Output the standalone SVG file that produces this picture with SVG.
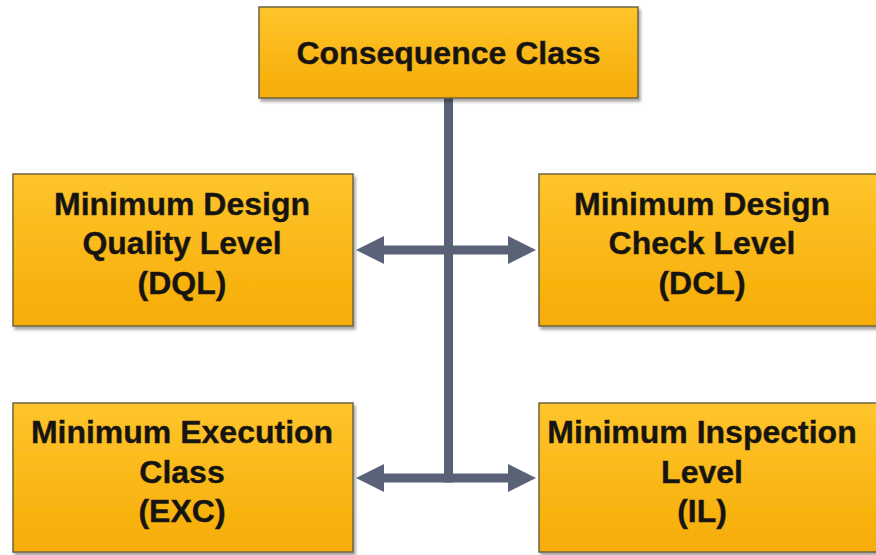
<svg xmlns="http://www.w3.org/2000/svg" width="876" height="555" viewBox="0 0 876 555">
  <defs>
    <linearGradient id="boxFill" x1="0" y1="0" x2="0" y2="1">
      <stop offset="0" stop-color="#FEC52C"/>
      <stop offset="1" stop-color="#F6AC06"/>
    </linearGradient>
    <filter id="boxShadow" x="-5%" y="-5%" width="112%" height="120%">
      <feDropShadow dx="2" dy="3" stdDeviation="1.8" flood-color="#000" flood-opacity="0.35"/>
    </filter>
    <marker id="arrow" viewBox="0 0 28 28" refX="1" refY="14" markerWidth="28" markerHeight="28" markerUnits="userSpaceOnUse" orient="auto-start-reverse">
      <path d="M0,0 L28,14 L0,28 Z" fill="#596276"/>
    </marker>
  </defs>
  <style>
    .box { fill: url(#boxFill); stroke: #6f6440; stroke-width: 1.5; filter: url(#boxShadow); }
    .label { font-family: "Liberation Sans", Arial, sans-serif; font-weight: bold; font-size: 32px; fill: #161412; stroke: #2a1f10; stroke-width: 0.4; text-anchor: middle; }
    .wire { fill: none; stroke: #596276; stroke-width: 9; }
  </style>

  <rect width="876" height="555" fill="#ffffff"/>

  <!-- connectors -->
  <g id="connectors">
    <line class="wire" x1="448.5" y1="97" x2="448.5" y2="482.5"/>
    <line class="wire" x1="383" y1="250" x2="509" y2="250" marker-start="url(#arrow)" marker-end="url(#arrow)"/>
    <line class="wire" x1="383" y1="478" x2="509" y2="478" marker-start="url(#arrow)" marker-end="url(#arrow)"/>
  </g>

  <g id="consequence-class">
    <rect class="box" x="259" y="7" width="379" height="91"/>
    <text class="label" x="448.5" y="64">Consequence Class</text>
  </g>

  <g id="design-quality-level">
    <rect class="box" x="13" y="174" width="340" height="152"/>
    <text class="label" x="182" y="215">Minimum Design</text>
    <text class="label" x="182" y="254">Quality Level</text>
    <text class="label" x="182" y="294">(DQL)</text>
  </g>

  <g id="design-check-level">
    <rect class="box" x="539" y="174" width="345" height="152"/>
    <text class="label" x="702" y="215">Minimum Design</text>
    <text class="label" x="702" y="254">Check Level</text>
    <text class="label" x="702" y="294">(DCL)</text>
  </g>

  <g id="execution-class">
    <rect class="box" x="13" y="403" width="340" height="149"/>
    <text class="label" x="182" y="443">Minimum Execution</text>
    <text class="label" x="182" y="483">Class</text>
    <text class="label" x="182" y="522">(EXC)</text>
  </g>

  <g id="inspection-level">
    <rect class="box" x="539" y="403" width="345" height="149"/>
    <text class="label" x="702" y="443">Minimum Inspection</text>
    <text class="label" x="702" y="483">Level</text>
    <text class="label" x="702" y="522">(IL)</text>
  </g>
</svg>
